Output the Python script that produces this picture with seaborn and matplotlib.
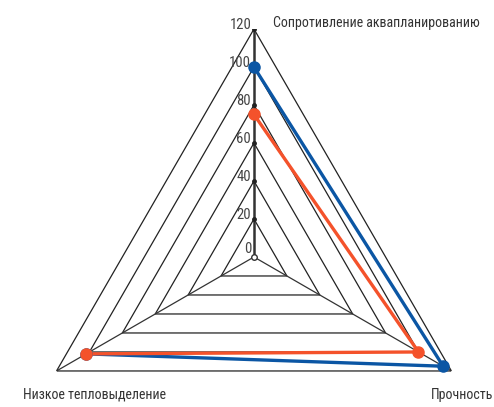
import numpy as np
import seaborn as sns
import matplotlib.pyplot as plt

sns.set_theme(style='white')
plt.rcParams['font.family'] = ['Roboto Condensed', 'DejaVu Sans']

categories = ['Сопротивление аквапланированию', 'Прочность', 'Низкое тепловыделение']
series_blue = [100, 115, 102]
series_orange = [75, 100, 102]
r_ticks = [0, 20, 40, 60, 80, 100, 120]

blue = '#0b56a4'
orange = '#f4522b'

n = len(categories)
theta = np.linspace(0, 2 * np.pi, n, endpoint=False)
theta_closed = np.append(theta, theta[0])

fig = plt.figure(figsize=(4.94, 4.07), dpi=100)
ax = fig.add_axes([0.0526, -0.1916, 0.923, 1.1204], projection='polar')
ax.set_theta_offset(np.pi / 2)
ax.set_theta_direction(-1)
ax.set_ylim(0, 120)
ax.grid(False)
ax.spines['polar'].set_visible(False)
ax.patch.set_alpha(0)
ax.set_xticks([])
ax.set_yticks([])

# polygon rings
for r in r_ticks[1:]:
    ax.plot(theta_closed, [r] * (n + 1), color='#222222', lw=0.9, zorder=1)
# spokes
for i, t in enumerate(theta):
    ax.plot([t, t], [0, 120], color='#333333', lw=1.8 if i == 0 else 0.9, zorder=1)
# tick marks on the main spoke
ax.plot([0] * (len(r_ticks) - 1), r_ticks[1:], 'o', color='#222222', ms=2.5, zorder=2)
ax.plot([0], [0], 'o', mfc='white', mec='#333333', ms=4, zorder=2)
for r in r_ticks:
    ax.annotate(str(r), xy=(0, r), xytext=(-2, 3 if r else 6), textcoords='offset points',
                ha='right', va='center', fontsize=10.5, color='#444444')

sns.lineplot(x=theta_closed, y=series_orange + [series_orange[0]], ax=ax, sort=False,
             color=orange, lw=2.4, zorder=4)
sns.lineplot(x=theta_closed, y=series_blue + [series_blue[0]], ax=ax, sort=False,
             color=blue, lw=2.4, zorder=3)
ax.plot(theta, series_blue, 'o', color=blue, ms=8, zorder=5)
ax.plot(theta, series_orange, 'o', color=orange, ms=8, zorder=6)

ax.annotate(categories[0], xy=(theta[0], 120), xytext=(14, 4), textcoords='offset points',
            ha='left', va='center', fontsize=10, color='#333333')
ax.annotate(categories[1], xy=(theta[1], 120), xytext=(30, -17), textcoords='offset points',
            ha='right', va='center', fontsize=10, color='#333333')
ax.annotate(categories[2], xy=(theta[2], 120), xytext=(27, -17), textcoords='offset points',
            ha='center', va='center', fontsize=10, color='#333333')

fig.savefig('out.png', dpi=100)
